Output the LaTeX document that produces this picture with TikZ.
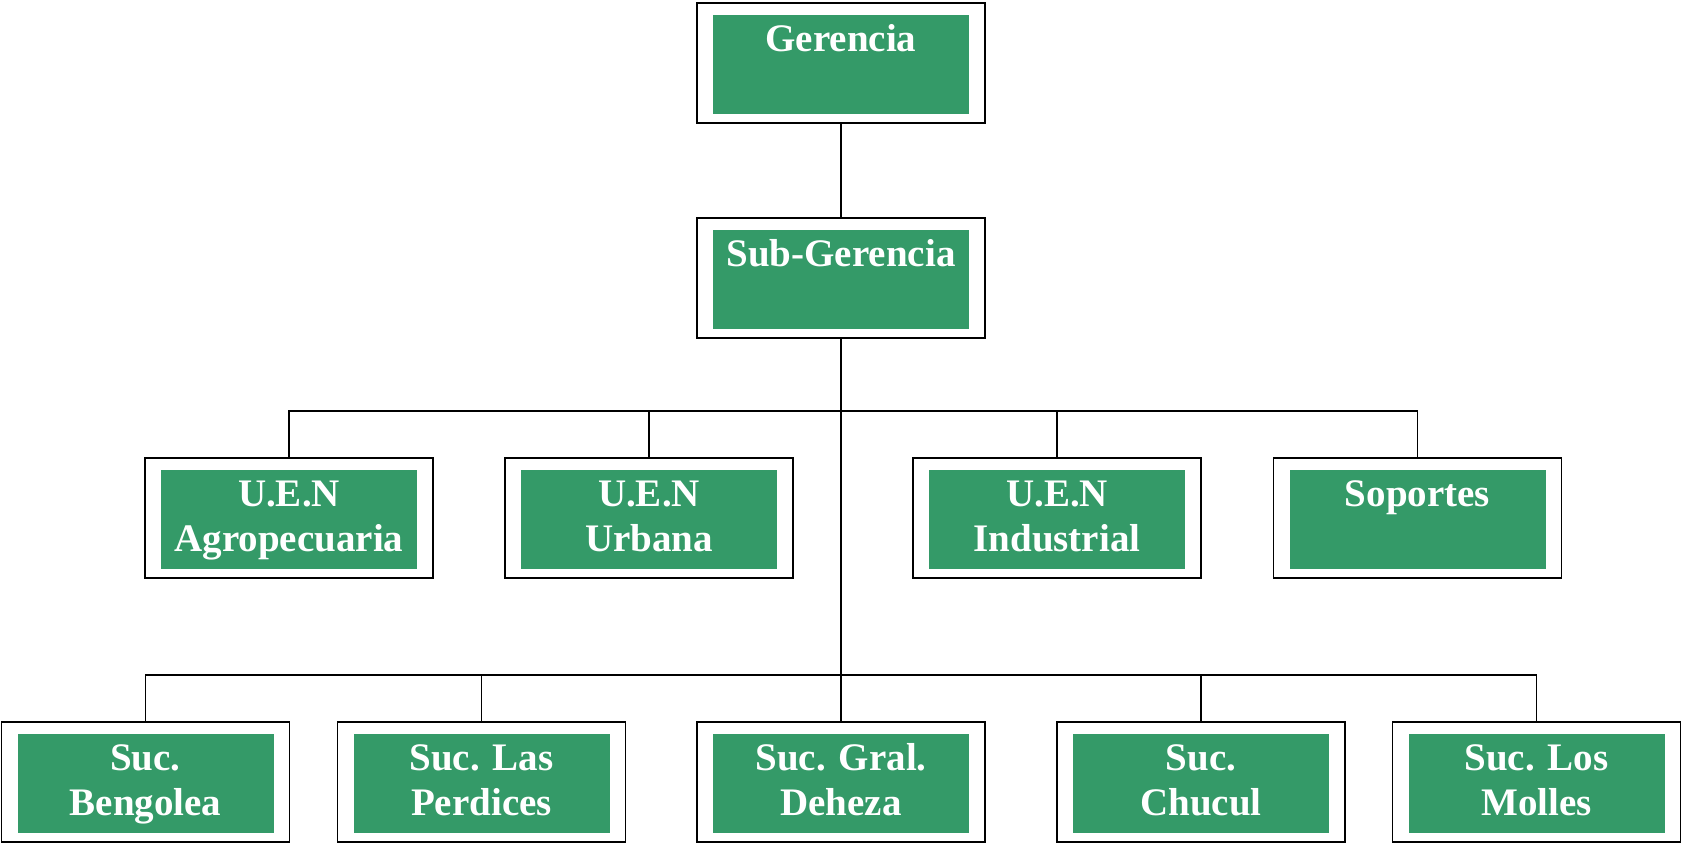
\documentclass[tikz,border=0pt]{standalone}
\usepackage{fontspec}
\setmainfont{Liberation Serif}
\definecolor{unitgreen}{RGB}{52,154,104}
\tikzset{
  outerbox/.style={draw=black, line width=0.9pt, fill=white, inner sep=0pt,
    minimum width=144pt, minimum height=60pt},
  innerbox/.style={fill=unitgreen, draw=none, inner sep=0pt,
    minimum width=128pt, minimum height=49.5pt},
  boxtext/.style={text=white, inner sep=0pt, align=center, anchor=north,
    font=\bfseries\fontsize{19.5}{22.75}\selectfont},
  link/.style={draw=black, line width=0.9pt}
}
% #1 name, #2 centre x, #3 top y, #4 label
% the strut fixes the first baseline 16pt below the text node's top
\newcommand\orgunit[4]{%
  \node[outerbox] (#1) at (#2, #3+60) {};
  \node[innerbox] (#1-fill) at (#2, #3+61.5) {};
  \node[boxtext] (#1-text) at (#2, #3+16) {\rule{0pt}{16pt}#4};
}
\begin{document}
\begin{tikzpicture}[x=0.5pt, y=-0.5pt]
\useasboundingbox (0,0) rectangle (1681,844);

% bars of the two lower levels
\coordinate (bar-uen) at (841,411);
\coordinate (bar-suc) at (841,675);

\orgunit{ger}{841}{3}{Gerencia}
\orgunit{sub}{841}{218}{Sub-Gerencia}

\orgunit{uen1}{289}{458}{U.E.N\\Agropecuaria}
\orgunit{uen2}{649}{458}{U.E.N\\Urbana}
\orgunit{uen3}{1057}{458}{U.E.N\\Industrial}
\orgunit{sop}{1417.5}{458}{Soportes}

\orgunit{suc1}{145.5}{722}{Suc.\\Bengolea}
\orgunit{suc2}{481.5}{722}{Suc. Las\\Perdices}
\orgunit{suc3}{841}{722}{Suc. Gral.\\Deheza}
\orgunit{suc4}{1201}{722}{Suc.\\Chucul}
\orgunit{suc5}{1536.5}{722}{Suc. Los\\Molles}

\draw[link] (ger.south) -- (sub.north);
\draw[link] (sub.south) -- (suc3.north);

\draw[link] (uen1.north) -- (uen1.north |- bar-uen) -- (sop.north |- bar-uen) -- (sop.north);
\draw[link] (uen2.north) -- (uen2.north |- bar-uen);
\draw[link] (uen3.north) -- (uen3.north |- bar-uen);

\draw[link] (suc1.north) -- (suc1.north |- bar-suc) -- (suc5.north |- bar-suc) -- (suc5.north);
\draw[link] (suc2.north) -- (suc2.north |- bar-suc);
\draw[link] (suc4.north) -- (suc4.north |- bar-suc);
\end{tikzpicture}
\end{document}
